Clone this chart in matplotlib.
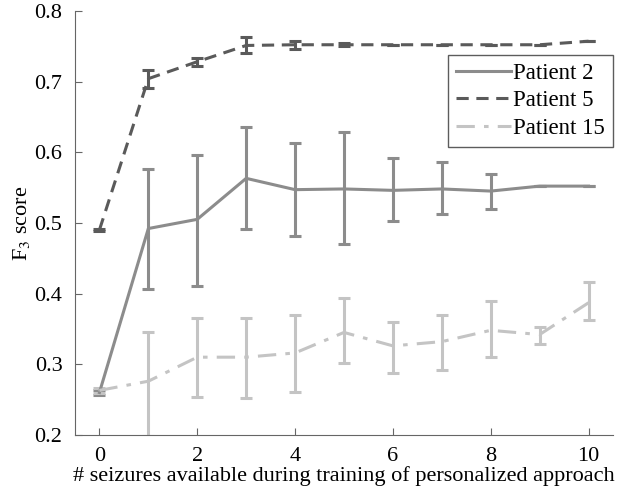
import matplotlib
matplotlib.use("Agg")
import matplotlib.pyplot as plt
import numpy as np

plt.rcParams["font.family"] = ["Liberation Serif", "DejaVu Serif"]
plt.rcParams["mathtext.fontset"] = "stix"

seizures = np.arange(11)

p2_mean = [0.260, 0.492, 0.505, 0.563, 0.547, 0.548, 0.546, 0.548, 0.545, 0.552, 0.552]
p2_low = [0.257, 0.407, 0.410, 0.492, 0.482, 0.470, 0.502, 0.512, 0.520, 0.552, 0.552]
p2_high = [0.263, 0.576, 0.596, 0.635, 0.613, 0.628, 0.592, 0.586, 0.569, 0.552, 0.552]

p5_mean = [0.490, 0.704, 0.728, 0.751, 0.752, 0.752, 0.752, 0.752, 0.752, 0.752, 0.757]
p5_low = [0.488, 0.691, 0.722, 0.741, 0.746, 0.750, 0.752, 0.752, 0.752, 0.752, 0.757]
p5_high = [0.492, 0.716, 0.733, 0.763, 0.757, 0.754, 0.752, 0.752, 0.752, 0.752, 0.757]

p15_mean = [0.263, 0.276, 0.310, 0.310, 0.316, 0.345, 0.326, 0.332, 0.348, 0.342, 0.387]
p15_low = [0.260, 0.198, 0.253, 0.252, 0.261, 0.302, 0.288, 0.292, 0.310, 0.328, 0.362]
p15_high = [0.266, 0.346, 0.366, 0.366, 0.370, 0.394, 0.360, 0.370, 0.389, 0.353, 0.416]

series = [
    ("Patient 2", p2_mean, p2_low, p2_high, "#8c8c8c", "-"),
    ("Patient 5", p5_mean, p5_low, p5_high, "#5a5a5a", (0, (4, 2.5))),
    ("Patient 15", p15_mean, p15_low, p15_high, "#c4c4c4", (0, (6, 3, 1.5, 3))),
]

fig = plt.figure(figsize=(6.3, 4.92), dpi=100)
ax = fig.add_axes([0.119, 0.116, 0.854, 0.862])

for label, mean, low, high, color, style in series:
    mean = np.array(mean)
    yerr = [mean - np.array(low), np.array(high) - mean]
    ax.errorbar(seizures, mean, yerr=yerr, color=color, linestyle=style,
                linewidth=2.2, elinewidth=2.2, capsize=4, capthick=2.2,
                label=label)

ax.set_xlim(-0.5, 10.5)
ax.set_ylim(0.2, 0.8)
ax.set_xticks([0, 2, 4, 6, 8, 10])
ax.set_yticks([0.2, 0.3, 0.4, 0.5, 0.6, 0.7, 0.8])
ax.tick_params(direction="in", labelsize=16, color="#666666", length=5)
ax.tick_params(axis="x", pad=9)
ax.tick_params(axis="y", pad=9)
for side in ["top", "right"]:
    ax.spines[side].set_visible(False)
for side in ["left", "bottom"]:
    ax.spines[side].set_color("#666666")

ax.set_xlabel("# seizures available during training of personalized approach",
              fontsize=16, labelpad=0)
ax.set_ylabel(r"F$_3$ score", fontsize=16, labelpad=2)

handles, labels = ax.get_legend_handles_labels()
handles = [h[0] for h in handles]
leg = ax.legend(handles, labels, loc="upper right", bbox_to_anchor=(1.0, 0.896),
                borderaxespad=0, fontsize=16.5, frameon=True, fancybox=False,
                handlelength=2.4, handletextpad=0.1, borderpad=0.35,
                labelspacing=0.28)
leg.get_frame().set_edgecolor("#333333")
leg.get_frame().set_linewidth(1.0)

fig.savefig("out.png", dpi=100)
